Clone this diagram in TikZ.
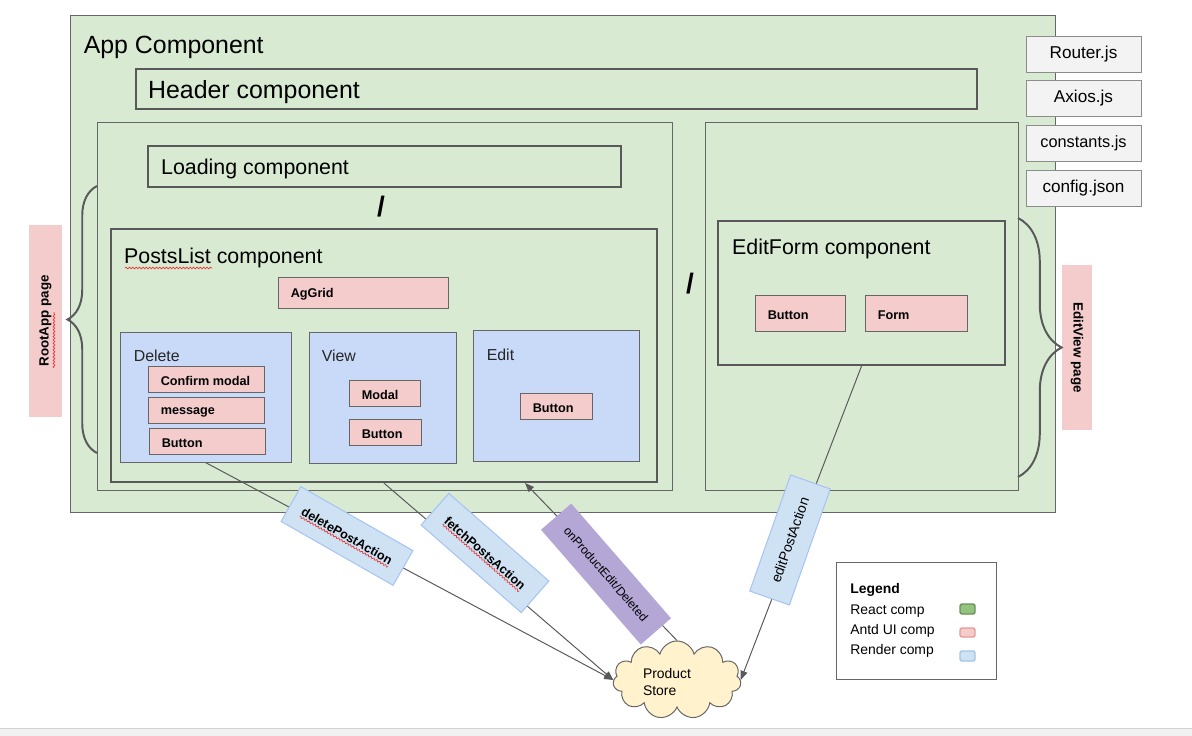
\documentclass[tikz,border=0pt]{standalone}
\usepackage{fontspec}
\setmainfont{Liberation Sans}
\usetikzlibrary{arrows.meta,fit,shapes.symbols,decorations.pathreplacing,decorations.pathmorphing}

\definecolor{appgreen}{HTML}{D9EAD3}
\definecolor{boxline}{HTML}{666666}
\definecolor{frameline}{HTML}{595959}
\definecolor{rendblue}{HTML}{C9DAF8}
\definecolor{antdpink}{HTML}{F4CCCC}
\definecolor{filegray}{HTML}{F3F3F3}
\definecolor{fileline}{HTML}{8C8C8C}
\definecolor{actionblue}{HTML}{CFE2F3}
\definecolor{actionline}{HTML}{A4C2F4}
\definecolor{eventpurple}{HTML}{B4A7D6}
\definecolor{cloudyellow}{HTML}{FFF2CC}
\definecolor{spellred}{HTML}{E53935}
\definecolor{reactgreen}{HTML}{93C47D}
\definecolor{reactline}{HTML}{6A8F5A}
\definecolor{antdline}{HTML}{EA9999}
\definecolor{rendline}{HTML}{9FC5E8}
\definecolor{pagegray}{HTML}{F1F1F1}
\definecolor{pageline}{HTML}{D4D4D4}

\tikzset{
  comp/.style={draw=boxline, fill=appgreen, line width=0.7pt, inner sep=0pt},
  heavy/.style={draw=frameline, fill=appgreen, line width=1.6pt, inner sep=0pt},
  render/.style={draw=boxline, fill=rendblue, line width=0.7pt, inner sep=0pt},
  antd/.style={draw=boxline, fill=antdpink, line width=0.7pt, inner sep=0pt},
  antdtext/.style={anchor=west, inner sep=0pt, yshift=-1.4pt, font=\bfseries\fontsize{9}{10}\selectfont},
  filebox/.style={draw=fileline, fill=filegray, line width=0.7pt, inner sep=0pt,
                  minimum width=2.875cm, minimum height=0.9cm, font=\fontsize{12.2}{14}\selectfont},
  bigtitle/.style={anchor=west, inner sep=0pt, yshift=-2pt, font=\fontsize{17.7}{20}\selectfont},
  midtitle/.style={anchor=west, inner sep=0pt, yshift=-1.5pt, font=\fontsize{15.2}{17}\selectfont},
  smalltitle/.style={anchor=west, inner sep=0pt, yshift=-0.7pt, text=black!85, font=\fontsize{11.3}{13}\selectfont},
  pagelabel/.style={fill=antdpink, inner sep=0pt, font=\bfseries\fontsize{9.5}{11}\selectfont},
  actionlabel/.style={draw=actionline, fill=actionblue, line width=0.7pt, inner sep=0pt},
  eventlabel/.style={fill=eventpurple, inner sep=0pt, font=\fontsize{8.6}{10}\selectfont},
  flow/.style={draw=frameline, line width=0.7pt, -{Triangle[length=6.5pt,width=5pt]}},
  curly/.style={draw=frameline, line width=1.4pt, decorate},
  spell/.style={draw=spellred, line width=0.5pt, decorate, decoration={snake, amplitude=0.6pt, segment length=2.4pt}},
  slash/.style={inner sep=0pt, font=\bfseries\fontsize{20}{22}\selectfont},
  legendtext/.style={anchor=west, inner sep=0pt, font=\fontsize{9.9}{11}\selectfont},
  swatch/.style={rounded corners=1.5pt, line width=1pt, inner sep=0pt}
}

\begin{document}
\begin{tikzpicture}[x=0.025cm, y=-0.025cm]
    \useasboundingbox (0,0) rectangle (1192,736);

    % page edge
    \fill[pagegray] (0,729) rectangle (1192,736);
    \draw[pageline] (0,728.5) -- (1192,728.5);

    % app shell
    \node[comp, fit={(70,15) (1055,512)}] (app) {};
    \node[bigtitle] at ([shift={(14,30)}]app.north west) {App Component};
    \node[heavy, fit={(136,69) (977,109)}] (header) {};
    \node[bigtitle] at ([shift={(13,0)}]header.west) {Header component};

    % pages
    \node[comp, fit={(97,122) (672,490)}] (listpage) {};
    \node[comp, fit={(705,122) (1018,490)}] (editpage) {};

    % list page
    \node[heavy, fit={(148,146) (621,187)}] (loading) {};
    \node[midtitle] at ([shift={(14,0)}]loading.west) {Loading component};
    \node[slash] (orlist) at (381,207) {/};
    \node[slash] (orpage) at (690,284) {/};

    \node[heavy, fit={(111,229) (657,482)}] (postslist) {};
    \node[midtitle] (poststitle) at ([shift={(14,28)}]postslist.north west) {PostsList component};
    \draw[spell] (125,268) -- (212,268);

    \node[antd, fit={(278,277) (448,308)}] (aggrid) {};
    \node[antdtext] at ([shift={(13,0)}]aggrid.west) {AgGrid};

    \node[render, fit={(120,332) (291,462)}] (delbox) {};
    \node[smalltitle] at ([shift={(14,23)}]delbox.north west) {Delete};
    \node[antd, fit={(148,366) (264,392)}] (delconfirm) {};
    \node[antdtext] at ([shift={(13,0)}]delconfirm.west) {Confirm modal};
    \node[antd, fit={(148,397) (264,423)}] (delmessage) {};
    \node[antdtext] at ([shift={(13,0)}]delmessage.west) {message};
    \node[antd, fit={(149,428) (265,454)}] (delbutton) {};
    \node[antdtext] at ([shift={(13,0)}]delbutton.west) {Button};

    \node[render, fit={(309,332) (456,463)}] (viewbox) {};
    \node[smalltitle] at ([shift={(13,23)}]viewbox.north west) {View};
    \node[antd, fit={(349,380) (420,406)}] (viewmodal) {};
    \node[antdtext] at ([shift={(13,0)}]viewmodal.west) {Modal};
    \node[antd, fit={(349,419) (421,445)}] (viewbutton) {};
    \node[antdtext] at ([shift={(13,0)}]viewbutton.west) {Button};

    \node[render, fit={(473,330) (639,461)}] (editbox) {};
    \node[smalltitle] at ([shift={(14,24)}]editbox.north west) {Edit};
    \node[antd, fit={(520,393) (592,419)}] (editbutton) {};
    \node[antdtext] at ([shift={(13,0)}]editbutton.west) {Button};

    % edit page
    \node[heavy, fit={(718,221) (1005,365)}] (editform) {};
    \node[midtitle] at ([shift={(15,27)}]editform.north west) {EditForm component};
    \node[antd, fit={(755,295) (845,331)}] (efbutton) {};
    \node[antdtext] at ([shift={(13,0)}]efbutton.west) {Button};
    \node[antd, fit={(865,295) (967,331)}] (efform) {};
    \node[antdtext] at ([shift={(13,0)}]efform.west) {Form};

    % files
    \node[filebox] (router) at (1083.5,54) {Router.js};
    \node[filebox] (axios) at (1083.5,98) {Axios.js};
    \node[filebox, font=\fontsize{11.6}{13}\selectfont] (constants) at (1083.5,143) {constants.js};
    \node[filebox] (config) at (1083.5,188) {config.json};

    % page braces
    \node[pagelabel, minimum width=4.8cm, minimum height=0.825cm, rotate=90] (rootpage) at (45.5,321) {RootApp page};
    \draw[spell] (54,368) -- (54,312);
    \node[pagelabel, minimum width=4.125cm, minimum height=0.75cm, rotate=-90] (editviewpage) at (1077,347.5) {EditView page};
    \draw[curly, decoration={brace, amplitude=21pt}] (97,453) -- (97,186);
    \draw[curly, decoration={brace, amplitude=31pt}] (1018,218) -- (1018,477);

    % store and actions
    \node[cloud, cloud puffs=11, aspect=1.6, draw=boxline, fill=cloudyellow, line width=0.7pt,
          minimum width=3.2cm, minimum height=1.95cm] (store) at (677,680) {};
    \node[align=left, inner sep=0pt, font=\fontsize{9.9}{12}\selectfont] (storetext) at ([shift={(-10,2)}]store.center) {Product\\Store};
    \coordinate (edithit) at (525,483);

    \draw[flow] (delbox.south) -- (store.west);
    \draw[flow] (postslist.south) -- (store.west);
    \draw[flow] (store.north) -- (edithit);
    \draw[flow] (editform.south) -- (store.east);

    \node[actionlabel, minimum width=3.225cm, minimum height=1cm, rotate=-29.7, font=\bfseries\fontsize{8.9}{10}\selectfont] (dellabel) at (347,536) {deletePostAction};
    \begin{scope}[shift={(347,536)}, rotate=-29.7]
      \draw[spell] (-51,6.5) -- (51,6.5);
    \end{scope}
    \node[actionlabel, minimum width=3.325cm, minimum height=1.05cm, rotate=-41.2, font=\bfseries\fontsize{8.9}{10}\selectfont] (fetchlabel) at (485,553) {fetchPostsAction};
    \begin{scope}[shift={(485,553)}, rotate=-41.2]
      \draw[spell] (-51,6.5) -- (51,6.5);
    \end{scope}
    \node[eventlabel, minimum width=3.8cm, minimum height=1cm, rotate=-49] (changedlabel) at (606,574) {onProductEdit/Deleted};
    \node[actionlabel, minimum width=3.075cm, minimum height=1.05cm, rotate=70.6, font=\fontsize{9.9}{11}\selectfont] (editlabel) at (790,540) {editPostAction};

    % legend
    \node[draw=boxline, fill=white, line width=0.7pt, inner sep=0pt, fit={(836,562) (996,679)}] (legend) {};
    \node[legendtext, font=\bfseries\fontsize{9.9}{11}\selectfont] at (850,590) {Legend};
    \node[legendtext] at (850,611) {React comp};
    \node[legendtext] at (850,631) {Antd UI comp};
    \node[legendtext] at (850,651) {Render comp};
    \node[swatch, draw=reactline, fill=reactgreen, fit={(960,604) (975,614)}] (reactkey) {};
    \node[swatch, draw=antdline, fill=antdpink, fit={(960,628) (975,637)}] (antdkey) {};
    \node[swatch, draw=rendline, fill=actionblue, fit={(960,651) (975,661)}] (renderkey) {};

\end{tikzpicture}
\end{document}
